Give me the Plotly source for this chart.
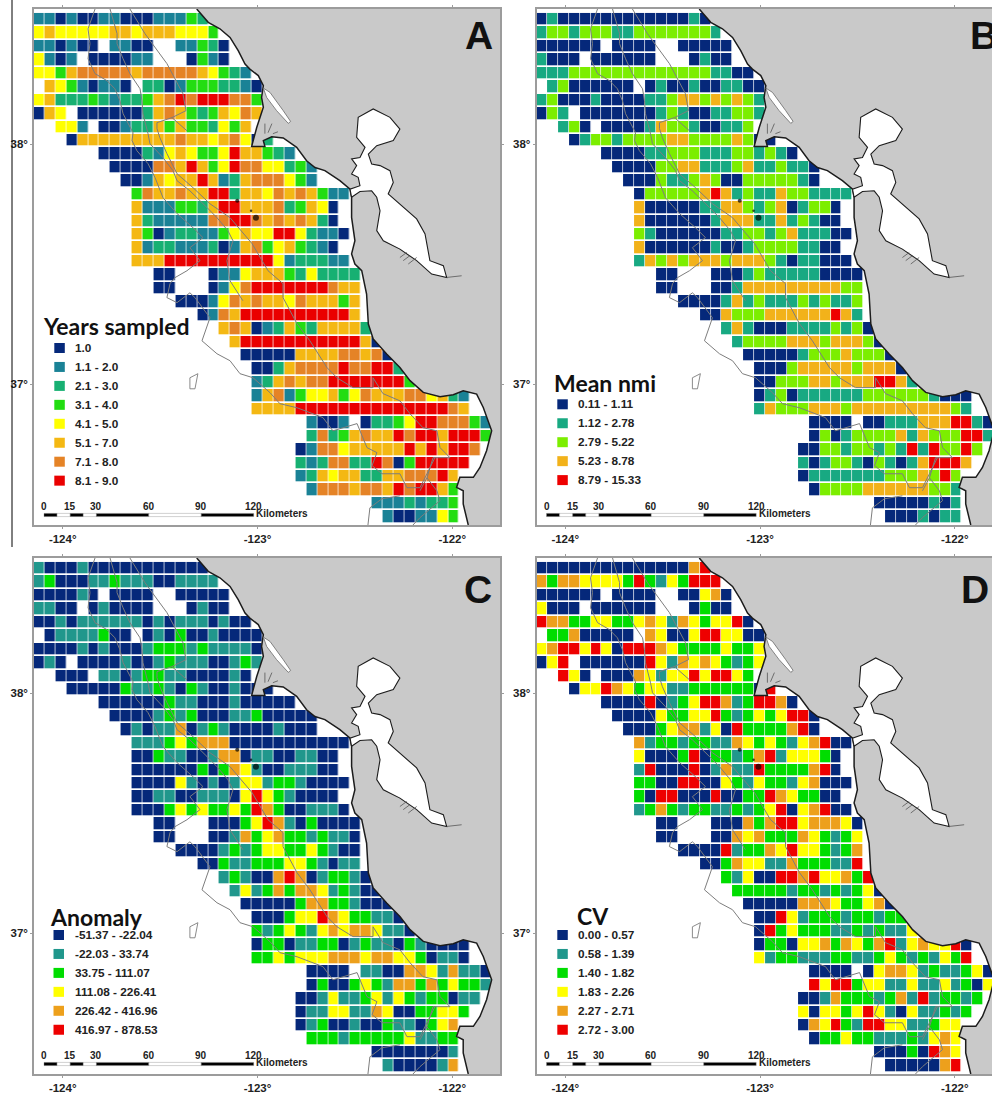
import plotly.graph_objects as go

PLOT_W, PLOT_H = 994, 1093   # plotting area; the page window is 992 x 1093
EXTRA_R, EXTRA_B = 4, 1      # plotly keeps this much room at the right and bottom

# ---- survey grid -------------------------------------------------------
LON0, LAT0, CELL = -124.1217, 38.518, 0.056
first_cell = [0,0,0,0,0,0,0,0,0,3,6,7,8,9,9,9,9,9,9,11,11,13,15,17,18,19,20,20,20,20,25,25,24,24,24,25,31,32]

rows_A = ["2212112211122243","56555556656665554","221211.2211..22431","5212.111122...1421","55467777767777765432",
 ".65421221.33124443321","563334323346787888774","165.11111136764346576","..552.11233646443546","1666666666766567513",
 "111132565445866432","1111776864587755342","112656686236777542","47667668836657676422","6222443688666734651",
 "6322222778876767631","64123322456558853221","6233222312674564321","66688888888885233322","11...12256664353333",
 "11...12578888888766","11125767665766646","127688888888886","67612364366663","68888888888861",
 "11111666677671","11367777877883","236767788888884","26724556457666775632","66668888888888888876",
 "2112.133458877742","37346766878868884","12775666668686887","3237733871488888","236566336677786",
 "27776776878864","22232334","2112254"]

rows_B = ["1211111111111121","23323332233333332","111111.1111..11111","2111.111111...1211","22233333333333332211",
 ".23111111.12112112211","231112111122344343432","132.11111112321122332","..231.11112433211223","1233233334433334311",
 "111122333222332321","1111334422234223221","111322343113333321","13333345423224332222","4111112244323412331",
 "4111111244422423211","32111111223323422211","4111111211233332211","24343444344432122111","11...11123222221111",
 "11...11244444444433","11112423222323223","114333444444542","24211122223231","23333444344431",
 "11111233343331","11134444434441","113334434445542","12312222223333332111","24333444344444444432",
 "1111.112224445521","13123333424333552","11332332325253353","2123321321245554","122222223334353",
 "13333444444332","11111212","1112122"]

rows_C = ["2111211111111111","23111223222112222","111121.1111..11111","2211.121111...1211","11212222221212221211",
 ".12222311.12131121111","111121211123332322221","121.11112112322211232","..111.22123322111121","1111132232132112111",
 "111111322111211111","1111232311122311111","121225123211112111","22234355511111111111","1132211255122112211",
 "1111113135421122211","11114212124423321111","1122112221464321111","11134343343653112221","11...11134652131111",
 "11...11253453323221","11112323443343211","113223334432122","23211565123321","24235355423211",
 "11111355332111","11134465433221","323432454554221","13312233123221321111","33434445554554431221",
 "1111.221155425221","13113432553534332","11242234243233122","1224422541133443","123112113221345",
 "33323333342233","11111112","2111125"]

rows_D = ["1111111111111156","53554444363243666","111111.1111..11451","4111.111111...1311","65533443345425434461",
 ".33511111.54114664411","456646416665433334334","146.11111164254543234","..641.11154244646643","1446543442233333316",
 "111161234665236651","1111433446323434661","111345524163333561","52332332254343245611","4111361332356244431",
 "2611161252263333561","33116611432433245111","3166111611336543311","23532332232346145611","11...11153566455541",
 "11...11545333543234","11116233546443235","113544225333226","32411665644536","33333233232341",
 "11111555433451","11642333233233","163433322323224","13314453543562454461","42332223322343232436",
 "1111.145542322341","64663442242242314","11253332352623323","4144346421422323","154632664422344",
 "13343322232454","11131654","1111156"]

colors_A = ["#05287a","#1a8296","#17b072","#22dd11","#ffff00","#f4b813","#e58326","#ea0000"]
colors_B = ["#05287a","#18a982","#7cee00","#f2b21a","#ee0000"]
colors_C = ["#05287a","#20978c","#00dd00","#ffff00","#eda01c","#ee0000"]
colors_D = colors_C

labels_A = ["1.0","1.1 - 2.0","2.1 - 3.0","3.1 - 4.0","4.1 - 5.0","5.1 - 7.0","7.1 - 8.0","8.1 - 9.0"]
labels_B = ["0.11 - 1.11","1.12 - 2.78","2.79 - 5.22","5.23 - 8.78","8.79 - 15.33"]
labels_C = ["-51.37 - -22.04","-22.03 - 33.74","33.75 - 111.07","111.08 - 226.41","226.42 - 416.96","416.97 - 878.53"]
labels_D = ["0.00 - 0.57","0.58 - 1.39","1.40 - 1.82","1.83 - 2.26","2.27 - 2.71","2.72 - 3.00"]

lon_ticks = [-124, -123, -122]
lon_text = ["-124°", "-123°", "-122°"]
lat_ticks = [38, 37]
lat_text = ["38°", "37°"]
scale_km = [0, 7.5, 15, 22.5, 30, 60, 90, 120]
scale_labels = [0, 15, 30, 60, 90, 120]

# ---- geography (degrees) --------------------------------------------------
coast_lon = [-123.312,-123.253,-123.193,-123.141,-123.099,-123.064,-123.039,-122.996,-122.970,-122.979,-122.970,-123.004,-123.030,-122.962,-122.970,-122.927,-122.868,-122.799,-122.748,-122.705,-122.654,-122.577,-122.525,-122.517,-122.517,-122.500,-122.517,-122.500,-122.465,-122.440,-122.431,-122.406,-122.337,-122.269,-122.217,-122.149,-122.063,-121.995,-121.944,-121.875,-121.841,-121.798,-121.824,-121.858,-121.892,-121.961,-121.978,-121.944,-121.944,-121.918]
coast_lat = [38.5625,38.507,38.480,38.444,38.389,38.333,38.312,38.285,38.243,38.194,38.153,38.069,37.990,37.990,38.014,38.030,38.025,37.986,37.930,37.902,37.889,37.847,37.812,37.778,37.694,37.597,37.542,37.500,37.472,37.375,37.250,37.188,37.125,37.069,37.014,36.965,36.947,36.955,36.972,36.958,36.902,36.805,36.722,36.652,36.611,36.611,36.569,36.555,36.500,36.4125]
land_corner_lon = [-121.70, -121.70]
land_corner_lat = [36.4125, 38.5625]

bay_lon = [-122.517,-122.474,-122.414,-122.388,-122.371,-122.388,-122.354,-122.269,-122.183,-122.106,-122.029,-122.046,-122.115,-122.140,-122.183,-122.252,-122.329,-122.303,-122.320,-122.371,-122.414,-122.431,-122.388,-122.303,-122.269,-122.320,-122.406,-122.483,-122.491,-122.448,-122.474,-122.517,-122.491,-122.517,-122.483,-122.474,-122.525,-122.517]
bay_lat = [37.778,37.802,37.805,37.778,37.722,37.639,37.597,37.562,37.514,37.458,37.444,37.493,37.514,37.625,37.688,37.736,37.792,37.840,37.889,37.910,37.917,37.958,37.993,38.014,38.062,38.111,38.146,38.111,38.028,37.986,37.944,37.938,37.910,37.875,37.861,37.826,37.812,37.778]

inlet_lon = [-122.970,-122.936,-122.868,-122.830,-122.842,-122.902,-122.953,-122.970]
inlet_lat = [38.233,38.215,38.139,38.094,38.086,38.139,38.194,38.233]

island_lon = [-123.347,-123.306,-123.321,-123.347,-123.347]
island_lat = [37.026,37.043,36.980,36.980,37.026]

dots_lon = [-123.104,-123.033,-123.008]
dots_lat = [37.764,37.722,37.693]
dots_size = [4,2.5,6]

# small creeks and sloughs drawn over the land
creek_lon = [[-122.962,-122.962],[-122.946,-122.926],[-122.921,-122.895],[-122.269,-122.234],[-122.252,-122.217],[-122.226,-122.183],[-122.029,-121.952]]
creek_lat = [[38.043,38.085],[38.047,38.085],[38.043,38.051],[37.527,37.548],[37.514,37.535],[37.500,37.527],[37.444,37.451]]

contour_lon = [
 [-123.834,-123.870,-123.860,-123.870,-123.834,-123.773,-123.732,-123.706,-123.690,-123.639,-123.644,-123.619,-123.562,-123.526,-123.485,-123.413,-123.331,-123.280,-123.347,-123.295,-123.362,-123.424,-123.449,-123.465,-123.413,-123.347,-123.321,-123.244,-123.285,-123.208,-123.141,-123.090,-123.023,-122.936,-122.885,-122.797,-122.664,-122.613,-122.489,-122.459,-122.438,-122.387,-122.412,-122.361,-122.269,-122.233,-122.166,-122.130,-122.089],
 [-123.757,-123.721,-123.721,-123.690,-123.655,-123.603,-123.593,-123.588,-123.562,-123.552,-123.485,-123.434,-123.413,-123.347,-123.259,-123.208,-123.152,-123.126,-123.157,-123.141,-123.075],
 [-123.655,-123.578,-123.465,-123.383,-123.367,-123.439,-123.516,-123.516,-123.501,-123.465,-123.413,-123.331,-123.244,-123.141,-123.028,-122.946,-122.869,-122.869,-122.797,-122.731,-122.643,-122.592,-122.510,-122.407,-122.407,-122.356,-122.269,-122.217,-122.151,-122.079,-122.063,-122.012,-122.099,-122.130,-122.166],
 [-123.362,-123.439],
 [-122.433,-122.423,-122.361,-122.269],
 [-122.202,-122.166,-122.063,-122.079,-122.130],
]
contour_lat = [
 [38.5625,38.480,38.418,38.355,38.293,38.264,38.230,38.180,38.126,38.047,38.014,37.972,37.918,37.860,37.776,37.710,37.651,37.610,37.568,37.514,37.472,37.443,37.418,37.360,37.339,37.380,37.360,37.276,37.180,37.126,37.097,37.043,37.026,36.964,36.918,36.901,36.860,36.805,36.835,36.776,36.735,36.714,36.660,36.626,36.626,36.568,36.568,36.626,36.693],
 [38.5625,38.460,38.418,38.355,38.293,38.230,38.180,38.126,38.043,38.001,37.943,37.889,37.847,37.805,37.735,37.693,37.639,37.597,37.514,37.430,37.347],
 [38.5625,38.460,38.335,38.210,38.139,38.110,38.089,38.064,38.026,37.960,37.876,37.818,37.751,37.693,37.585,37.472,37.418,37.360,37.251,37.180,37.068,37.026,36.985,36.985,37.026,36.960,36.930,36.876,36.818,36.805,36.735,36.693,36.693,36.609,36.555],
 [38.055,38.110],
 [36.4125,36.484,36.522,36.534],
 [36.4125,36.443,36.514,36.555,36.609],
]

# ---- panel layout (window pixels) ---------------------------------------
LAT_TOP, LAT_BOT = 38.5625, 36.4125
panels = [
    dict(key="", left=34.0, right=500.0, top=9.0, bottom=525.0, dx=0.0, dy=0.0, rows=rows_A, colors=colors_A,
         labels=labels_A, title="Years sampled", tx=41, ty=326, lx0=54.3, lly=348, letter="A", lettx=479, letty=35, lab=72.5),
    dict(key="2", left=536.5, right=994.0, top=9.0, bottom=525.0, dx=502.5, dy=0.0, rows=rows_B, colors=colors_B,
         labels=labels_B, title="Mean nmi", tx=552, ty=383, lx0=557.3, lly=404.3, letter="B", lettx=984, letty=35, lab=575.5),
    dict(key="3", left=34.0, right=500.0, top=558.0, bottom=1074.0, dx=0.0, dy=549.0, rows=rows_C, colors=colors_C,
         labels=labels_C, title="Anomaly", tx=48, ty=917, lx0=53.5, lly=935, letter="C", lettx=478, letty=589, lab=72.5),
    dict(key="4", left=536.5, right=994.0, top=558.0, bottom=1074.0, dx=502.5, dy=549.0, rows=rows_D, colors=colors_D,
         labels=labels_D, title="CV", tx=575, ty=916, lx0=557.3, lly=935, letter="D", lettx=975, letty=589, lab=575.5),
]
LON_PER_PX = 1 / 194.8

def px(x): return x / PLOT_W
def py(y): return 1 - y / PLOT_H

fig = go.Figure()
shapes, annos = [], []
GRID = "#9c9c9c"
TXT = "#222222"
SANS = "Liberation Sans"

for p in panels:
    xa, ya = "x" + p["key"], "y" + p["key"]
    n = len(p["colors"])
    zs = []
    for i, r in enumerate(p["rows"]):
        row = [None] * 42
        for j, ch in enumerate(r):
            if ch != ".":
                row[first_cell[i] + j] = int(ch)
        zs.append(row)
    scale = []
    for k, c in enumerate(p["colors"]):
        scale += [[k / n, c], [(k + 1) / n, c]]
    fig.add_trace(go.Heatmap(
        z=zs, x=[LON0 + CELL * c for c in range(42)], y=[LAT0 - CELL * r for r in range(38)],
        zmin=0.5, zmax=n + 0.5, colorscale=scale, showscale=False, xgap=0.7, ygap=1.7,
        xaxis=xa, yaxis=ya, hoverinfo="skip"))
    for lo, la in zip(contour_lon, contour_lat):
        fig.add_trace(go.Scatter(x=lo, y=la, mode="lines", line=dict(color="#7d7d7d", width=1),
                                 xaxis=xa, yaxis=ya, showlegend=False, hoverinfo="skip"))
    fig.add_trace(go.Scatter(x=coast_lon + land_corner_lon, y=coast_lat + land_corner_lat, mode="lines",
                             fill="toself", fillcolor="#c9c9c9", line=dict(width=0),
                             xaxis=xa, yaxis=ya, showlegend=False, hoverinfo="skip"))
    fig.add_trace(go.Scatter(x=coast_lon, y=coast_lat, mode="lines", line=dict(color="#1c1c1c", width=1.5),
                             xaxis=xa, yaxis=ya, showlegend=False, hoverinfo="skip"))
    fig.add_trace(go.Scatter(x=bay_lon, y=bay_lat, mode="lines", fill="toself", fillcolor="white",
                             line=dict(color="#1c1c1c", width=1.1),
                             xaxis=xa, yaxis=ya, showlegend=False, hoverinfo="skip"))
    fig.add_trace(go.Scatter(x=inlet_lon, y=inlet_lat, mode="lines", fill="toself", fillcolor="white",
                             line=dict(color="#6a6a6a", width=0.8),
                             xaxis=xa, yaxis=ya, showlegend=False, hoverinfo="skip"))
    for lo, la in zip(creek_lon, creek_lat):
        fig.add_trace(go.Scatter(x=lo, y=la, mode="lines", line=dict(color="#555555", width=0.8),
                                 xaxis=xa, yaxis=ya, showlegend=False, hoverinfo="skip"))
    fig.add_trace(go.Scatter(x=island_lon, y=island_lat, mode="lines", fill="toself", fillcolor="white",
                             line=dict(color="#7d7d7d", width=0.9),
                             xaxis=xa, yaxis=ya, showlegend=False, hoverinfo="skip"))
    fig.add_trace(go.Scatter(x=dots_lon, y=dots_lat, mode="markers",
                             marker=dict(color="black", size=dots_size, line=dict(width=0)),
                             xaxis=xa, yaxis=ya, showlegend=False, hoverinfo="skip"))

    x_zero = 62.7 + p["dx"]
    lon_left = -124 + (p["left"] - x_zero) * LON_PER_PX
    lon_right = -124 + (p["right"] - x_zero) * LON_PER_PX
    axis_style = dict(showgrid=False, zeroline=False, showline=True, linecolor=GRID, linewidth=1.6,
                      mirror="ticks", ticks="outside", ticklen=2, tickcolor=GRID, tickwidth=1,
                      tickfont=dict(family=SANS, size=11.5, color=TXT, weight=700))
    fig.update_layout(**{
        "xaxis" + p["key"]: dict(domain=[px(p["left"]), px(p["right"])], range=[lon_left, lon_right],
                                 tickvals=lon_ticks, ticktext=lon_text, anchor=ya, **axis_style),
        "yaxis" + p["key"]: dict(domain=[py(p["bottom"]), py(p["top"])], range=[LAT_BOT, LAT_TOP],
                                 tickvals=lat_ticks, ticktext=lat_text, anchor=xa, **axis_style),
    })

    annos.append(dict(x=-124 + (p["lettx"] - x_zero) * LON_PER_PX,
                      y=38 + (143.3 + p["dy"] - p["letty"]) / 240, xref=xa, yref=ya, text=f"<b>{p['letter']}</b>",
                      showarrow=False, xanchor="center", yanchor="middle",
                      font=dict(family=SANS, size=39, color="#111111")))
    annos.append(dict(x=px(p["tx"]), y=py(p["ty"]), xref="paper", yref="paper", text=f"<b>{p['title']}</b>",
                      showarrow=False, xanchor="left", yanchor="middle",
                      font=dict(family="Lato", size=23, color="#111111")))
    for k, (c, lab) in enumerate(zip(p["colors"], p["labels"])):
        yc = p["lly"] + 18.95 * k
        shapes.append(dict(type="rect", xref="paper", yref="paper", x0=px(p["lx0"]), x1=px(p["lx0"] + 10.5),
                           y0=py(yc - 5), y1=py(yc + 5), fillcolor=c, line=dict(width=0)))
        annos.append(dict(x=px(p["lab"]), y=py(yc), xref="paper", yref="paper", text=f"<b>{lab}</b>",
                          showarrow=False, xanchor="left", yanchor="middle",
                          font=dict(family=SANS, size=11.8, color=TXT)))
    KM = 1.7475
    bx = 44 + p["dx"]
    by = 515 + p["dy"]
    for k in range(len(scale_km) - 1):
        shapes.append(dict(type="rect", xref="paper", yref="paper",
                           x0=px(bx + scale_km[k] * KM), x1=px(bx + scale_km[k + 1] * KM),
                           y0=py(by - 1.6), y1=py(by + 1.6),
                           fillcolor="black" if k % 2 == 0 else "white",
                           line=dict(color="#8a8a8a", width=0.4)))
    for km in scale_labels:
        annos.append(dict(x=px(bx + km * KM), y=py(by - 9), xref="paper", yref="paper", text=f"<b>{km}</b>",
                          showarrow=False, xanchor="center", yanchor="middle",
                          font=dict(family=SANS, size=10, color=TXT)))
    annos.append(dict(x=px(bx + 120 * KM + 0.5), y=py(by - 1.5), xref="paper", yref="paper", text="<b>Kilometers</b>",
                      showarrow=False, xanchor="left", yanchor="middle",
                      font=dict(family=SANS, size=10, color=TXT)))

shapes.append(dict(type="line", xref="paper", yref="paper", x0=px(12), x1=px(12), y0=py(0), y1=py(547),
                   line=dict(color="black", width=1)))

fig.update_layout(width=PLOT_W + EXTRA_R, height=PLOT_H + EXTRA_B, margin=dict(l=0, r=0, t=0, b=0),
                  paper_bgcolor="white", plot_bgcolor="white", showlegend=False, shapes=shapes, annotations=annos)

fig.write_html("out.html", config={"displayModeBar": False},
               post_script="document.body.style.margin='0';document.documentElement.style.overflow='hidden';")
